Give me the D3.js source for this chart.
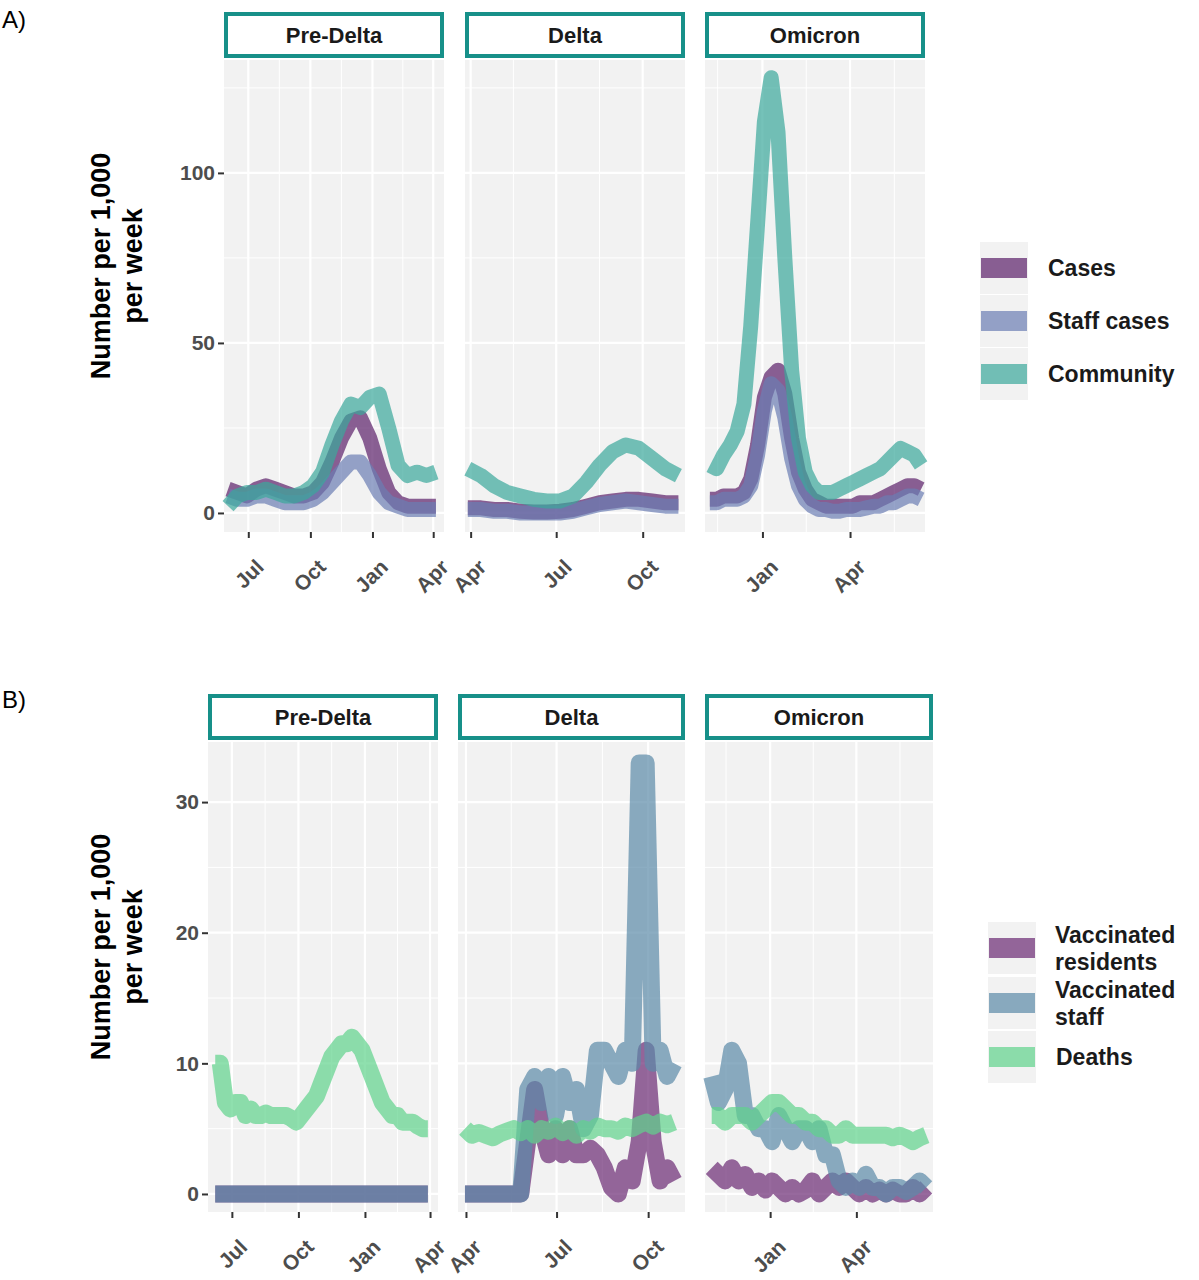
<!DOCTYPE html>
<html><head><meta charset="UTF-8">
<script src="https://d3js.org/d3.v7.min.js"></script>
<style>body{margin:0;background:#fff;font-family:Arial,"Liberation Sans",sans-serif}</style>
</head><body><svg id="c" width="1199" height="1280"></svg>
<script>
// ---- data ----
const facetNames = ["Pre-Delta", "Delta", "Omicron"];
const seriesA = ["Cases", "Staff cases", "Community"];
const seriesB = ["Vaccinated residents", "Vaccinated staff", "Deaths"];

// Panel A, Pre-Delta (fortnightly from 2020-06-01)
const preA_start = "2020-06-01", preA_step = 14;
const preA_cases = [7,6,5,7,8,7,6,5,5,6,9,15,22,27,28,22,13,6,3,2,2,2,2];
const preA_staff = [5,4,4,5,5,4,3,3,3,4,6,9,12,15,15,11,6,3,2,1,1,1,1];
const preA_comm  = [2,5,6,6,7,6,5,5,6,8,12,20,27,32,31,34,35,25,14,11,12,11,12];
// Panel A, Delta (fortnightly from 2021-03-29)
const delA_start = "2021-03-29", delA_step = 14;
const delA_cases = [1.5,1.5,1,1,0.5,0.3,0.3,0.5,1,2,3,3.5,4,4,3.5,3,3];
const delA_staff = [1,1,0.5,0.5,0,0,0,0,0.5,1.5,2.5,3,3.5,3,2.5,2,2];
const delA_comm  = [13,11,8,6,5,4,3.5,3.5,5,9,14,18,20,19,16,13,11];
// Panel A, Omicron (weekly from 2021-11-08)
const omiA_start = "2021-11-08", omiA_step = 7;
const omiA_cases = [4,4,5,5,5,6,10,20,34,40,42,35,22,12,7,4,3,2,2,2,2,2,3,3,3,4,5,6,7,8,8,7];
const omiA_staff = [3,3,4,4,4,5,8,17,30,38,36,28,16,8,4,2,1,1,0.5,0.5,1,1,1,1.5,2,2,3,3,4,5,5,4];
const omiA_comm  = [14,13,17,20,24,32,55,85,115,128,112,75,42,22,12,8,6,6,6,7,8,9,10,11,12,13,15,17,19,18,17,14];

// Panel B, Pre-Delta (weekly from 2020-06-08)
const preB_start = "2020-06-08", preB_step = 7;
const preB_res    = [0,0,0,0,0,0,0,0,0,0,0,0,0,0,0,0,0,0,0,0,0,0,0,0,0,0,0,0,0,0,0,0,0,0,0,0,0,0,0,0,0,0,0];
const preB_staff  = [0,0,0,0,0,0,0,0,0,0,0,0,0,0,0,0,0,0,0,0,0,0,0,0,0,0,0,0,0,0,0,0,0,0,0,0,0,0,0,0,0,0,0];
const preB_deaths = [10,10,7,6.5,7,7,6,6.5,6,6,6.2,6,6,6,6,5.8,5.5,6,6.5,7,7.5,8.5,9.5,10.5,11,11.5,11.5,12,11.5,11,10,9,8,7,6.5,6,6,5.5,5.5,5.5,5.2,5,5];
// Panel B, Delta (weekly from 2021-03-31)
const delB_start = "2021-03-31", delB_step = 7;
const delB_res    = [0,0,0,0,0,0,0,0,0,4,8,5,3,5,3,5,3,3,3.5,3,2,0.5,0,2,1,4,11,4,1,2,1];
const delB_staff  = [0,0,0,0,0,0,0,0,0,8,9,7,9,6,9,7,8,5,6,11,11,10,9,11,10,33,33,10,11,9,10];
const delB_deaths = [5,4.5,4.7,4.5,4.3,4.6,4.8,5,4.7,5,4.5,5,4.8,5.2,4.7,5,4.5,5,4.8,5.2,5,5,4.8,5.2,5,5.3,5.5,5.2,5.5,5.3,5.5];
// Panel B, Omicron (weekly from 2021-11-01)
const omiB_start = "2021-11-01", omiB_step = 7;
const omiB_res    = [2,1.5,1,2,1,1.5,0.5,1,0.3,1,0.5,0,0.5,0,0.3,1,0,0.5,1,0.5,1,0.5,0,0.5,0,0.3,0,0.3,0,0,0.5,0,0.5];
const omiB_staff  = [9,7,8,11,10,6,6,5,5,4,6,5,4,5,5,4,5,3,3,1,0.5,1,0.5,1.5,0.5,0.5,0,0.5,0.5,0.2,0.5,1,0.5];
const omiB_deaths = [6,6,5.5,6,6,6,5.5,6,6.5,7,7,6.5,6,6,5.5,5.5,5,5,4.5,4.5,5,4.5,4.5,4.5,4.5,4.5,4.5,4.3,4.5,4.3,4,4.3,4.5];

const ticksA = [["2020-07-01","2020-10-01","2021-01-01","2021-04-01"],["2021-04-01","2021-07-01","2021-10-01"],["2022-01-01","2022-04-01"]];
const tickFmt = d3.timeFormat("%b");

// ---- layout ----
const svg = d3.select("#c");
const pd = d3.timeParse("%Y-%m-%d");
const colA = ["#5b1f6a", "#6b7db3", "#3aa89b"];
const colB = ["#6b2a74", "#5b8aa8", "#5fd38c"];

function build(s, step, n) { const d0 = pd(s); return d3.range(n).map(i => d3.timeDay.offset(d0, i * step)); }

const panels = [
  { label: "A)", ly: 28, top: 60, bottom: 532, strip: [12, 58], yMax: 133.2, yMin: -5.6, yTicks: [0, 50, 100], yMinor: [25, 75, 125],
    facets: [
      { x: [224, 444], dom: ["2020-05-26", "2021-04-17"], start: preA_start, step: preA_step, vals: [preA_cases, preA_staff, preA_comm] },
      { x: [465, 685], dom: ["2021-03-26", "2021-11-15"], start: delA_start, step: delA_step, vals: [delA_cases, delA_staff, delA_comm] },
      { x: [705, 925], dom: ["2021-11-03", "2022-06-17"], start: omiA_start, step: omiA_step, vals: [omiA_cases, omiA_staff, omiA_comm] }],
    colors: colA, width: 15, names: seriesA, legend: { x: 980, y: [268, 321, 374] } },
  { label: "B)", ly: 708, top: 742, bottom: 1212, strip: [694, 740], yMax: 34.6, yMin: -1.38, yTicks: [0, 10, 20, 30], yMinor: [5, 15, 25],
    facets: [
      { x: [208, 438], dom: ["2020-05-29", "2021-04-12"], start: preB_start, step: preB_step, vals: [preB_res, preB_staff, preB_deaths] },
      { x: [458, 685], dom: ["2021-03-24", "2021-11-07"], start: delB_start, step: delB_step, vals: [delB_res, delB_staff, delB_deaths] },
      { x: [705, 933], dom: ["2021-10-25", "2022-06-20"], start: omiB_start, step: omiB_step, vals: [omiB_res, omiB_staff, omiB_deaths] }],
    colors: colB, width: 17, names: seriesB, legend: { x: 988, y: [948, 1003, 1057] } }
];

panels.forEach(p => {
  svg.append("text").attr("x", 2).attr("y", p.ly).attr("font-size", 24).text(p.label);
  const y = d3.scaleLinear().domain([p.yMin, p.yMax]).range([p.bottom, p.top]);

  p.facets.forEach((f, fi) => {
    const x = d3.scaleTime().domain(f.dom.map(pd)).range(f.x);
    const g = svg.append("g");
    g.append("rect").attr("x", f.x[0]).attr("y", p.top).attr("width", f.x[1] - f.x[0]).attr("height", p.bottom - p.top).attr("fill", "#f2f2f2");
    const majors = ticksA[fi].map(pd);
    // minor grid midway between quarterly majors
    const minorX = d3.timeMonth.every(3).range(d3.timeMonth.offset(pd(f.dom[0]), -3), pd(f.dom[1]))
      .map(m => new Date((+m + +d3.timeMonth.offset(m, 3)) / 2));
    g.selectAll(null).data(p.yMinor.filter(v => v < p.yMax)).join("line")
      .attr("x1", f.x[0]).attr("x2", f.x[1]).attr("y1", y).attr("y2", y).attr("stroke", "#fff").attr("stroke-width", 1);
    g.selectAll(null).data(minorX.filter(d => x(d) > f.x[0] && x(d) < f.x[1])).join("line")
      .attr("x1", x).attr("x2", x).attr("y1", p.top).attr("y2", p.bottom).attr("stroke", "#fff").attr("stroke-width", 1);
    g.selectAll(null).data(p.yTicks).join("line")
      .attr("x1", f.x[0]).attr("x2", f.x[1]).attr("y1", y).attr("y2", y).attr("stroke", "#fff").attr("stroke-width", 2.2);
    g.selectAll(null).data(majors).join("line")
      .attr("x1", x).attr("x2", x).attr("y1", p.top).attr("y2", p.bottom).attr("stroke", "#fff").attr("stroke-width", 2.2);

    // lines
    const line = d3.line().x(d => x(d[0])).y(d => y(d[1]));
    f.vals.forEach((vals, si) => {
      const dates = build(f.start, f.step, vals.length);
      g.append("path").datum(dates.map((d, i) => [d, vals[i]]))
        .attr("d", line).attr("fill", "none").attr("stroke", p.colors[si]).attr("stroke-opacity", 0.7)
        .attr("stroke-width", p.width).attr("stroke-linejoin", "round");
    });

    // strip
    svg.append("rect").attr("x", f.x[0] + 2).attr("y", p.strip[0] + 2).attr("width", f.x[1] - f.x[0] - 4)
      .attr("height", p.strip[1] - p.strip[0] - 4).attr("fill", "#fff").attr("stroke", "#179089").attr("stroke-width", 4);
    svg.append("text").attr("x", (f.x[0] + f.x[1]) / 2).attr("y", (p.strip[0] + p.strip[1]) / 2 + 8)
      .attr("text-anchor", "middle").attr("font-size", 22).attr("font-weight", "bold").attr("fill", "#1a1a1a").text(facetNames[fi]);

    // x axis
    const ax = svg.append("g").attr("transform", `translate(0,${p.bottom})`)
      .call(d3.axisBottom(x).tickValues(majors).tickFormat(tickFmt).tickSize(6));
    ax.select(".domain").remove();
    ax.selectAll(".tick line").attr("stroke", "#333").attr("stroke-width", 2);
    ax.selectAll("text").attr("font-size", 21).attr("font-weight", "bold").attr("fill", "#4d4d4d")
      .attr("font-family", "Arial, Liberation Sans, sans-serif")
      .attr("text-anchor", "end").attr("dy", 0).attr("transform", "translate(10,30) rotate(-45)");
  });

  // y axis
  const ay = svg.append("g").attr("transform", `translate(${p.facets[0].x[0]},0)`)
    .call(d3.axisLeft(y).tickValues(p.yTicks).tickSize(6));
  ay.select(".domain").remove();
  ay.selectAll(".tick line").attr("stroke", "#333").attr("stroke-width", 2);
  ay.selectAll("text").attr("font-size", 21).attr("font-weight", "bold").attr("fill", "#4d4d4d")
    .attr("font-family", "Arial, Liberation Sans, sans-serif");
  const cy = (p.top + p.bottom) / 2 - 30;
  const yt = svg.append("text").attr("transform", `translate(110,${cy}) rotate(-90)`).attr("text-anchor", "middle")
    .attr("font-size", 27).attr("font-weight", "bold");
  yt.append("tspan").attr("x", 0).attr("dy", 0).text("Number per 1,000");
  yt.append("tspan").attr("x", 0).attr("dy", 32).text("per week");

  // legend
  p.names.forEach((nm, i) => {
    const ly = p.legend.y[i];
    svg.append("rect").attr("x", p.legend.x).attr("y", ly - 26).attr("width", 48).attr("height", 52).attr("fill", "#f2f2f2");
    svg.append("rect").attr("x", p.legend.x + 1).attr("y", ly - 10).attr("width", 46).attr("height", 20)
      .attr("fill", p.colors[i]).attr("fill-opacity", 0.7);
    const words = nm.split(" ");
    const t = svg.append("text").attr("x", p.legend.x + 68).attr("font-size", 23).attr("font-weight", "bold").attr("fill", "#1a1a1a");
    if (p === panels[1] && words.length > 1) {
      t.attr("y", ly - 5);
      t.append("tspan").attr("x", p.legend.x + 67).text(words[0]);
      t.append("tspan").attr("x", p.legend.x + 67).attr("dy", 27).text(words[1]);
    } else {
      t.attr("y", ly + 8).text(nm);
    }
  });
});
</script></body></html>
